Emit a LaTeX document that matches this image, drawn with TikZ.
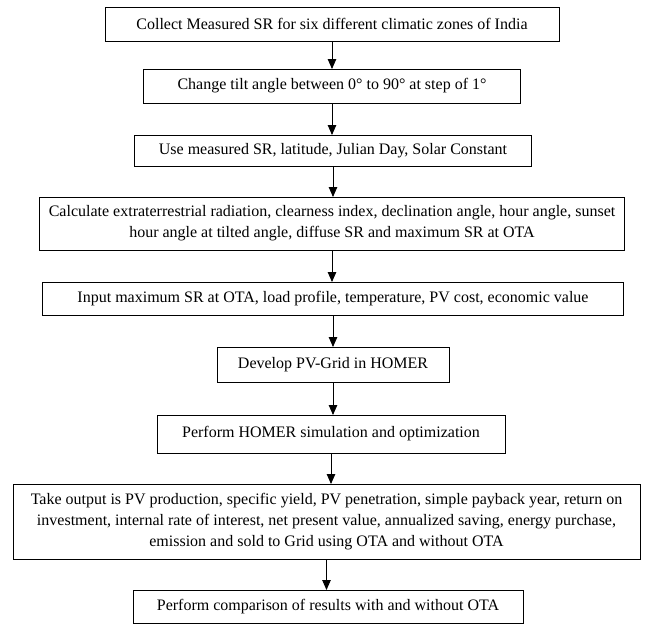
\documentclass[tikz,border=0pt]{standalone}
\usepackage{fontspec}
\setmainfont{Liberation Serif}
\usepackage{tikz}
\usetikzlibrary{positioning,arrows.meta}

\begin{document}
\begin{tikzpicture}[align=center,
    stepbox/.style={draw, line width=0.8pt, inner sep=0pt, outer sep=0pt, font=\fontsize{16}{21}\selectfont},
    flow/.style={-{Triangle[length=10pt,width=8.5pt]}, line width=0.9pt}]
    \useasboundingbox (0,0) rectangle (646pt,-625pt);
    \node [stepbox, minimum width=454pt, minimum height=34pt] (collect_sr) at (332pt,-24pt) {Collect Measured SR for six different climatic zones of India};
    \node [stepbox, minimum width=377pt, minimum height=34pt, below=28pt of collect_sr] (tilt_angle) {Change tilt angle between 0° to 90° at step of 1°};
    \node [stepbox, minimum width=397pt, minimum height=31pt, below=32pt of tilt_angle, xshift=1pt] (use_inputs) {Use measured SR, latitude, Julian Day, Solar Constant};
    \node [stepbox, minimum width=585pt, minimum height=53pt, below=31pt of use_inputs, xshift=-1pt] (calc_params) {Calculate extraterrestrial radiation, clearness index, declination angle, hour angle, sunset\\hour angle at tilted angle, diffuse SR and maximum SR at OTA};
    \node [stepbox, minimum width=581pt, minimum height=33pt, below=32pt of calc_params, xshift=1pt] (homer_inputs) {Input maximum SR at OTA, load profile, temperature, PV cost, economic value};
    \node [stepbox, minimum width=232pt, minimum height=35pt, below=32pt of homer_inputs] (develop_grid) {Develop PV-Grid in HOMER};
    \node [stepbox, minimum width=348pt, minimum height=38pt, below=33pt of develop_grid, xshift=-2pt] (homer_sim) {Perform HOMER simulation and optimization};
    \node [stepbox, minimum width=627pt, minimum height=75pt, below=31pt of homer_sim, xshift=-4.5pt] (take_output) {Take output is PV production, specific yield, PV penetration, simple payback year, return on\\investment, internal rate of interest, net present value, annualized saving, energy purchase,\\emission and sold to Grid using OTA and without OTA};
    \node [stepbox, minimum width=390pt, minimum height=33pt, below=31pt of take_output, xshift=1.5pt] (compare_results) {Perform comparison of results with and without OTA};

    \draw[flow] (collect_sr.south) -- (collect_sr.south |- tilt_angle.north);
    \draw[flow] (tilt_angle.south) -- (tilt_angle.south |- use_inputs.north);
    \draw[flow] (use_inputs.south) -- (use_inputs.south |- calc_params.north);
    \draw[flow] (calc_params.south) -- (calc_params.south |- homer_inputs.north);
    \draw[flow] (homer_inputs.south) -- (homer_inputs.south |- develop_grid.north);
    \draw[flow] (develop_grid.south) -- (develop_grid.south |- homer_sim.north);
    \draw[flow] (homer_sim.south) -- (homer_sim.south |- take_output.north);
    \draw[flow] (take_output.south) -- (take_output.south |- compare_results.north);
\end{tikzpicture}
\end{document}
